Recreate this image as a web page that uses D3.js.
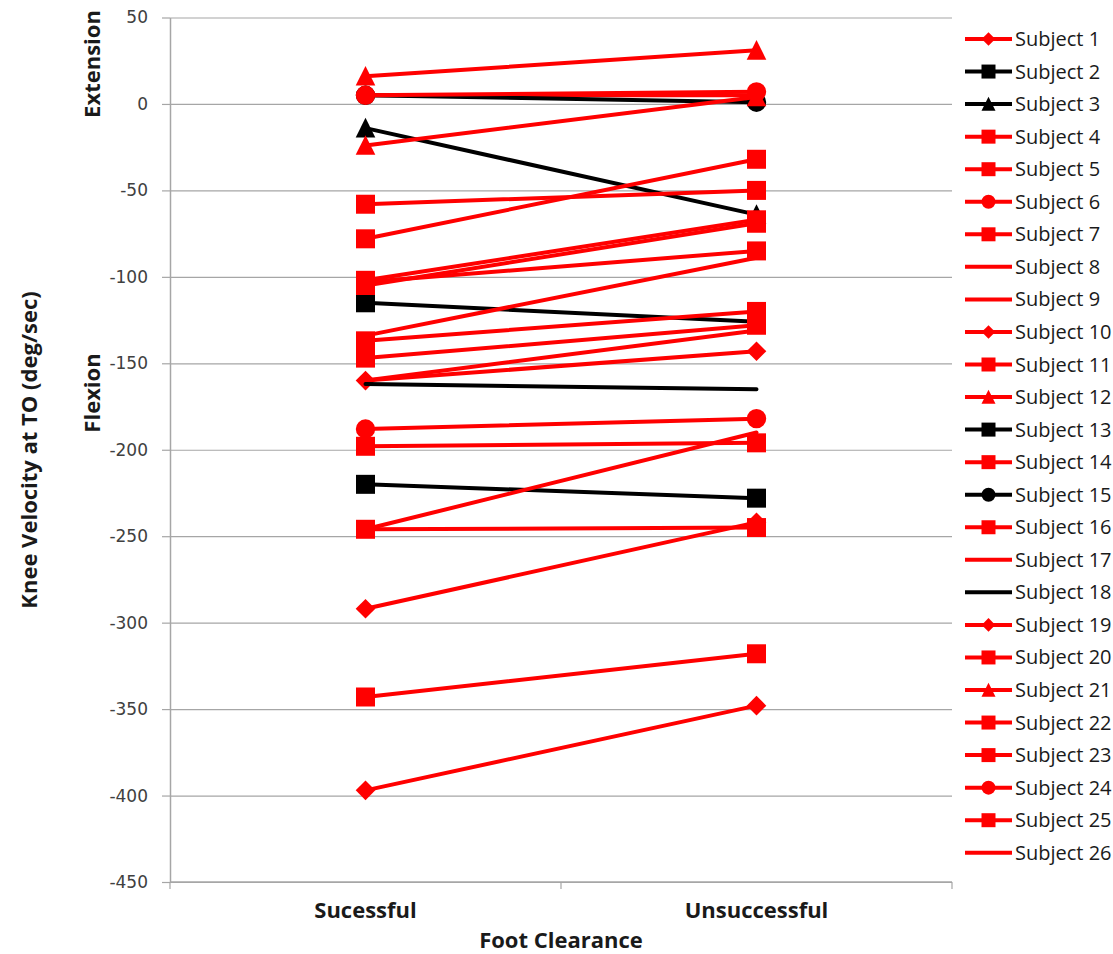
<!DOCTYPE html>
<html>
<head>
<meta charset="utf-8">
<script src="https://cdn.jsdelivr.net/npm/d3@7"></script>
<style>
  body { margin: 0; background: #fff; }
  svg { display: block; }
</style>
</head>
<body>
<svg id="chart"></svg>
<script>
// values (deg/sec)
const categories = ['Sucessful', 'Unsuccessful'];
const subjects = ['Subject 1', 'Subject 2', 'Subject 3', 'Subject 4', 'Subject 5', 'Subject 6',
  'Subject 7', 'Subject 8', 'Subject 9', 'Subject 10', 'Subject 11', 'Subject 12', 'Subject 13',
  'Subject 14', 'Subject 15', 'Subject 16', 'Subject 17', 'Subject 18', 'Subject 19', 'Subject 20',
  'Subject 21', 'Subject 22', 'Subject 23', 'Subject 24', 'Subject 25', 'Subject 26'];
const sucessful = [-397, -115, -14, -58, -78, -188, -102, 5, -160, -160, -105, 16, -220,
  -103, 5, -137, -246, -162, -292, -147, -24, -198, -246, 5, -343, -134];
const unsuccessful = [-348, -126, -64, -50, -32, -182, -67, 5, -131, -143, -69, 31, -228,
  -85, 1, -120, -190, -165, -242, -128, 4, -196, -245, 7, -318, -89];
const yTicks = [50, 0, -50, -100, -150, -200, -250, -300, -350, -400, -450];

// series styling (colour + marker), same order as subjects
const seriesColor = ['red', 'black', 'black', 'red', 'red', 'red', 'red', 'red', 'red', 'red',
  'red', 'red', 'black', 'red', 'black', 'red', 'red', 'black', 'red', 'red', 'red', 'red',
  'red', 'red', 'red', 'red'];
const seriesMarker = ['diamond', 'square', 'triangle', 'square', 'square', 'circle', 'square',
  'none', 'none', 'diamond', 'square', 'triangle', 'square', 'square', 'circle', 'square',
  'none', 'none', 'diamond', 'square', 'triangle', 'square', 'square', 'circle', 'square', 'none'];

const colorMap = { red: '#ff0000', black: '#000000' };
const width = 1113, height = 954;
const plot = { left: 170, right: 952, top: 17.5, bottom: 882 };

const svg = d3.select('#chart').attr('width', width).attr('height', height);

const x = d3.scaleBand().domain(categories).range([plot.left, plot.right]);
const cx = c => x(c) + x.bandwidth() / 2;
const y = d3.scaleLinear().domain([-450, 50]).range([plot.bottom, plot.top]);

function markerPath(type, r) {
  const p = d3.path();
  if (type === 'square') {
    p.rect(-r, -r, 2 * r, 2 * r);
  } else if (type === 'diamond') {
    p.moveTo(0, -r); p.lineTo(r, 0); p.lineTo(0, r); p.lineTo(-r, 0); p.closePath();
  } else if (type === 'triangle') {
    p.moveTo(0, -r * 1.05); p.lineTo(r, r * 0.95); p.lineTo(-r, r * 0.95); p.closePath();
  } else if (type === 'circle') {
    p.moveTo(r, 0); p.arc(0, 0, r, 0, 2 * Math.PI);
  }
  return p.toString();
}
const mainSize = { square: 9.5, diamond: 9.8, triangle: 9.8, circle: 9.7 };
const legendSize = { square: 7, diamond: 6.8, triangle: 7, circle: 7 };

// gridlines
svg.append('g')
  .attr('transform', `translate(${plot.left},0)`)
  .call(d3.axisLeft(y).tickValues(yTicks).tickSize(-(plot.right - plot.left)).tickFormat(''))
  .call(g => g.select('.domain').remove())
  .call(g => g.selectAll('line').attr('stroke', '#a6a6a6').attr('stroke-width', 1.2));

// y axis (plain hyphen for negatives, like the original)
svg.append('g')
  .attr('transform', `translate(${plot.left},0)`)
  .call(d3.axisLeft(y).tickValues(yTicks).tickSize(8).tickPadding(14).tickSizeOuter(0)
    .tickFormat(d => String(d)))
  .call(g => g.select('.domain').attr('stroke', '#a6a6a6').attr('stroke-width', 1.5))
  .call(g => g.selectAll('line').attr('stroke', '#a6a6a6').attr('stroke-width', 1.2))
  .call(g => g.selectAll('text')
    .style('font-family', '"DejaVu Sans", sans-serif')
    .style('font-size', '17px')
    .attr('fill', '#404040'));

// x axis
const xAxis = svg.append('g').attr('transform', `translate(0,${plot.bottom})`);
xAxis.append('line')
  .attr('x1', plot.left).attr('x2', plot.right)
  .attr('stroke', '#a6a6a6').attr('stroke-width', 1.5);
xAxis.selectAll('.edge')
  .data([plot.left].concat(categories.map(c => x(c) + x.bandwidth())))
  .enter().append('line')
  .attr('x1', d => d).attr('x2', d => d)
  .attr('y1', 0).attr('y2', 7)
  .attr('stroke', '#a6a6a6').attr('stroke-width', 1.2);
xAxis.selectAll('.cat')
  .data(categories)
  .enter().append('text')
  .attr('x', d => cx(d))
  .attr('y', 36)
  .attr('text-anchor', 'middle')
  .style('font-family', '"Open Sans", sans-serif')
  .style('font-weight', 'bold')
  .style('font-size', '22px')
  .attr('fill', '#1a1a1a')
  .text(d => d);

// titles
const bold = sel => sel
  .style('font-family', '"Open Sans", sans-serif')
  .style('font-weight', 'bold')
  .style('font-size', '22px')
  .attr('fill', '#1a1a1a')
  .attr('text-anchor', 'middle');

svg.append('text').call(bold)
  .attr('x', (plot.left + plot.right) / 2).attr('y', 948)
  .text('Foot Clearance');
svg.append('text').call(bold)
  .attr('transform', 'translate(37,450) rotate(-90)')
  .text('Knee Velocity at TO (deg/sec)');
svg.append('text').call(bold)
  .attr('transform', 'translate(100,64) rotate(-90)')
  .text('Extension');
svg.append('text').call(bold)
  .attr('transform', 'translate(100,393) rotate(-90)')
  .text('Flexion');

// series
const series = subjects.map((name, i) => ({
  name,
  color: colorMap[seriesColor[i]],
  marker: seriesMarker[i],
  points: [
    { cat: categories[0], value: sucessful[i] },
    { cat: categories[1], value: unsuccessful[i] }
  ]
}));

const line = d3.line().x(d => cx(d.cat)).y(d => y(d.value));

const sg = svg.append('g').selectAll('.series')
  .data(series)
  .enter().append('g')
  .attr('class', 'series');

sg.append('path')
  .attr('d', d => line(d.points))
  .attr('fill', 'none')
  .attr('stroke', d => d.color)
  .attr('stroke-width', 4)
  .attr('stroke-linecap', 'round');

sg.filter(d => d.marker !== 'none')
  .selectAll('.mark')
  .data(d => d.points.map(p => ({ ...p, color: d.color, marker: d.marker })))
  .enter().append('path')
  .attr('class', 'mark')
  .attr('transform', d => `translate(${cx(d.cat)},${y(d.value)})`)
  .attr('d', d => markerPath(d.marker, mainSize[d.marker]))
  .attr('fill', d => d.color);

// legend
const legend = svg.append('g').attr('transform', 'translate(965,39)');
const item = legend.selectAll('.item')
  .data(series)
  .enter().append('g')
  .attr('class', 'item')
  .attr('transform', (d, i) => `translate(0,${i * 32.55})`);

item.append('line')
  .attr('x1', 0).attr('x2', 47)
  .attr('stroke', d => d.color)
  .attr('stroke-width', 4);

item.filter(d => d.marker !== 'none')
  .append('path')
  .attr('transform', 'translate(23.5,0)')
  .attr('d', d => markerPath(d.marker, legendSize[d.marker]))
  .attr('fill', d => d.color);

item.append('text')
  .attr('x', 50)
  .attr('dy', '0.35em')
  .style('font-family', '"Open Sans", sans-serif')
  .style('font-size', '20px')
  .attr('fill', '#1a1a1a')
  .text(d => d.name);
</script>
</body>
</html>
